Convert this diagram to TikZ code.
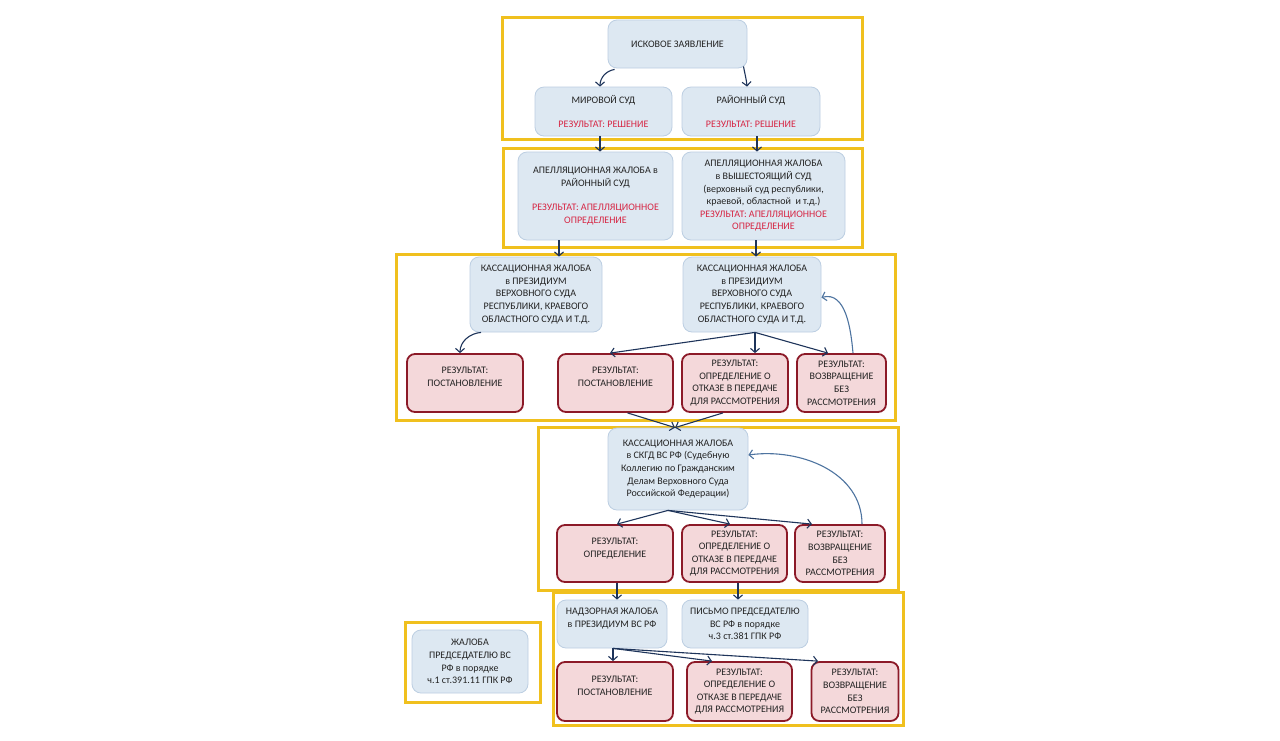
\documentclass[tikz,border=0pt]{standalone}
\usepackage{fontspec}
\setmainfont{Carlito}
\usetikzlibrary{arrows.meta,calc}
\definecolor{bfill}{RGB}{221,232,242}
\definecolor{bborder}{RGB}{188,206,226}
\definecolor{rfill}{RGB}{244,216,218}
\definecolor{rborder}{RGB}{140,26,40}
\definecolor{rtext}{RGB}{214,38,68}
\definecolor{txt}{RGB}{35,35,35}
\definecolor{yel}{RGB}{240,192,30}
\definecolor{navy}{RGB}{30,52,90}
\definecolor{steel}{RGB}{78,116,160}
\tikzset{
  bbox/.style={draw=bborder, fill=bfill, rounded corners=9pt, line width=0.8pt, align=center, text=txt, inner sep=0pt, font=\fontsize{10}{12.6}\selectfont},
  rbox/.style={draw=rborder, fill=rfill, rounded corners=8pt, line width=1.8pt, align=center, text=txt, inner sep=0pt, font=\fontsize{10}{12.6}\selectfont},
  two/.style={text depth=12pt},
  frame/.style={draw=yel, line width=3pt},
  arr/.style={draw=navy, line width=1.1pt, -{Straight Barb[length=4pt,width=9pt]}},
  fb/.style={arr, draw=steel}
}
\newcommand{\rt}[1]{\textcolor{rtext}{#1}}
\begin{document}
\begin{tikzpicture}[x=1pt,y=-1pt]
\useasboundingbox[fill=white] (0,0) rectangle (1280,740);
% frames
\draw[frame] (502,17) rectangle (862,139);
\draw[frame] (503,148) rectangle (862,247);
\draw[frame] (396,254) rectangle (895,420);
\draw[frame] (538,427) rectangle (898,590);
\draw[frame] (553,592) rectangle (903,725);
\draw[frame] (405,622) rectangle (540,702);
% blue boxes
\node[bbox, minimum width=139, minimum height=48] (isk) at (677.5,44) {ИСКОВОЕ ЗАЯВЛЕНИЕ};
\node[bbox, minimum width=137, minimum height=49] (mir) at (603.5,111.5) {МИРОВОЙ СУД\\[12pt]\rt{РЕЗУЛЬТАТ: РЕШЕНИЕ}};
\node[bbox, minimum width=138, minimum height=49] (ray) at (751,111.5) {РАЙОННЫЙ СУД\\[11pt]\rt{РЕЗУЛЬТАТ: РЕШЕНИЕ}};
\node[bbox, minimum width=155, minimum height=88] (ap1) at (595.5,196) {АПЕЛЛЯЦИОННАЯ ЖАЛОБА в\\РАЙОННЫЙ СУД\\[11.5pt]\rt{РЕЗУЛЬТАТ: АПЕЛЛЯЦИОННОЕ}\\\rt{ОПРЕДЕЛЕНИЕ}};
\node[bbox, minimum width=163, minimum height=88] (ap2) at (763.5,196) {АПЕЛЛЯЦИОННАЯ ЖАЛОБА\\в ВЫШЕСТОЯЩИЙ СУД\\(верховный суд республики,\\краевой, областной\ \ и т.д.)\\\rt{РЕЗУЛЬТАТ: АПЕЛЛЯЦИОННОЕ}\\\rt{ОПРЕДЕЛЕНИЕ}};
\node[bbox, minimum width=132, minimum height=75] (kas1) at (536,294.5) {КАССАЦИОННАЯ ЖАЛОБА\\в ПРЕЗИДИУМ\\ВЕРХОВНОГО СУДА\\РЕСПУБЛИКИ, КРАЕВОГО\\ОБЛАСТНОГО СУДА И Т.Д.};
\node[bbox, minimum width=138, minimum height=75] (kas2) at (752,294.5) {КАССАЦИОННАЯ ЖАЛОБА\\в ПРЕЗИДИУМ\\ВЕРХОВНОГО СУДА\\РЕСПУБЛИКИ, КРАЕВОГО\\ОБЛАСТНОГО СУДА И Т.Д.};
\node[bbox, minimum width=140, minimum height=82] (skgd) at (678,469) {КАССАЦИОННАЯ ЖАЛОБА\\в СКГД ВС РФ (Судебную\\Коллегию по Гражданским\\Делам Верховного Суда\\Российской Федерации)};
\node[bbox, minimum width=110, minimum height=48, two] (nadz) at (612,624) {НАДЗОРНАЯ ЖАЛОБА\\в ПРЕЗИДИУМ ВС РФ};
\node[bbox, minimum width=126, minimum height=48] (pis) at (745,624) {ПИСЬМО ПРЕДСЕДАТЕЛЮ\\ВС РФ в порядке\\ч.3 ст.381 ГПК РФ};
\node[bbox, minimum width=116, minimum height=63] (zhal) at (470,661.5) {ЖАЛОБА\\ПРЕДСЕДАТЕЛЮ ВС\\РФ в порядке\\ч.1 ст.391.11 ГПК РФ};
% red boxes row A
\node[rbox, minimum width=116, minimum height=58, two] (ra1) at (465,383) {РЕЗУЛЬТАТ:\\ПОСТАНОВЛЕНИЕ};
\node[rbox, minimum width=115, minimum height=58, two] (ra2) at (615.5,383) {РЕЗУЛЬТАТ:\\ПОСТАНОВЛЕНИЕ};
\node[rbox, minimum width=106, minimum height=58] (ra3) at (735,383) {РЕЗУЛЬТАТ:\\ОПРЕДЕЛЕНИЕ О\\ОТКАЗЕ В ПЕРЕДАЧЕ\\ДЛЯ РАССМОТРЕНИЯ};
\node[rbox, minimum width=89, minimum height=58] (ra4) at (841.5,383) {РЕЗУЛЬТАТ:\\ВОЗВРАЩЕНИЕ\\БЕЗ\\РАССМОТРЕНИЯ};
% row B
\node[rbox, minimum width=116, minimum height=57, two] (rb1) at (615,553.5) {РЕЗУЛЬТАТ:\\ОПРЕДЕЛЕНИЕ};
\node[rbox, minimum width=105, minimum height=57] (rb2) at (734.5,553.5) {РЕЗУЛЬТАТ:\\ОПРЕДЕЛЕНИЕ О\\ОТКАЗЕ В ПЕРЕДАЧЕ\\ДЛЯ РАССМОТРЕНИЯ};
\node[rbox, minimum width=90, minimum height=57] (rb3) at (840,553.5) {РЕЗУЛЬТАТ:\\ВОЗВРАЩЕНИЕ\\БЕЗ\\РАССМОТРЕНИЯ};
% row C
\node[rbox, minimum width=116, minimum height=59, two] (rc1) at (615,691.5) {РЕЗУЛЬТАТ:\\ПОСТАНОВЛЕНИЕ};
\node[rbox, minimum width=105, minimum height=59] (rc2) at (739.5,691.5) {РЕЗУЛЬТАТ:\\ОПРЕДЕЛЕНИЕ О\\ОТКАЗЕ В ПЕРЕДАЧЕ\\ДЛЯ РАССМОТРЕНИЯ};
\node[rbox, minimum width=87, minimum height=59] (rc3) at (855,691.5) {РЕЗУЛЬТАТ:\\ВОЗВРАЩЕНИЕ\\БЕЗ\\РАССМОТРЕНИЯ};
% connectors
\draw[arr] ($(isk.south west)+(7,1)$) to[out=190,in=90] ($(mir.north)+(-3.5,0)$);
\draw[arr] ($(isk.south)+(66,-2)$) to[out=-80,in=95] ($(ray.north)+(-4,0)$);
\draw[arr] ($(mir.south)+(-3.5,0)$) -- ($(ap1.north)+(4.5,0)$);
\draw[arr] ($(ray.south)+(6,0)$) -- ($(ap2.north)+(-6.5,0)$);
\draw[arr] ($(ap1.south)+(-36.5,0)$) -- ($(kas1.north)+(23,0)$);
\draw[arr] ($(ap2.south)+(-7.5,0)$) -- ($(kas2.north)+(4,0)$);
\draw[arr] ($(kas1.south)+(-55,0)$) to[out=185,in=90] ($(ra1.north)+(-5,0)$);
\draw[arr] ($(kas2.south)+(3,0)$) -- ($(ra2.north)+(-5.5,0)$);
\draw[arr] ($(kas2.south)+(3,0)$) -- ($(ra3.north)+(20,0)$);
\draw[arr] ($(kas2.south)+(3,0)$) -- ($(ra4.north)+(-13.5,0)$);
\draw[fb] ($(ra4.north)+(11.5,0)$) to[out=95,in=15] ($(kas2.east)+(0,3)$);
\draw[arr] ($(ra2.south)+(12,0)$) -- ($(skgd.north)+(-3,0)$);
\draw[arr] ($(ra3.south)+(-12,0)$) -- ($(skgd.north)+(-3,0)$);
\draw[arr] ($(skgd.south)+(-10,0)$) -- ($(rb1.north)+(2,0)$);
\draw[arr] ($(skgd.south)+(-10,0)$) -- ($(rb2.north)+(-4.5,0)$);
\draw[arr] ($(skgd.south)+(-10,0)$) -- ($(rb3.north)+(-28,0)$);
\draw[fb] ($(rb3.north)+(22,0)$) to[out=90,in=8] ($(skgd.east)+(0,-14)$);
\draw[arr] ($(rb1.south)+(2,0)$) -- ($(nadz.north)+(5,0)$);
\draw[arr] ($(rb2.south)+(3.5,0)$) -- ($(pis.north)+(-7,0)$);
\draw[arr] ($(nadz.south)+(1,0)$) -- ($(rc1.north)+(-2,0)$);
\draw[arr] ($(nadz.south)+(1,0)$) -- ($(rc2.north)+(-27.5,0)$);
\draw[arr] ($(nadz.south)+(1,0)$) -- ($(rc3.north)+(-37,0)$);
\end{tikzpicture}
\end{document}
